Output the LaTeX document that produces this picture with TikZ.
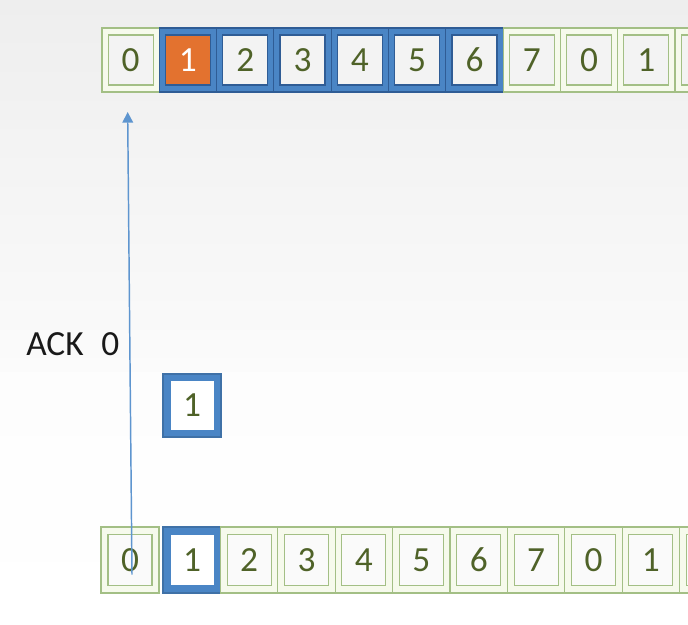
\documentclass[tikz,border=0pt]{standalone}
\usepackage{fontspec}
\setmainfont{Carlito}
\usetikzlibrary{arrows.meta}
\definecolor{gline}{HTML}{A3BF85}
\definecolor{gouter}{HTML}{F6FAEC}
\definecolor{ginfill}{HTML}{F3F3F3}
\definecolor{numgreen}{HTML}{4F6228}
\definecolor{bfill}{HTML}{4A85C5}
\definecolor{bdark}{HTML}{2F5C95}
\definecolor{ordfill}{HTML}{E3722F}
\definecolor{arrowblue}{HTML}{5E95CF}
\newcommand\cellfont{\fontsize{26.5}{31}\selectfont}
\tikzset{
  cellbase/.style={inner sep=0pt, outer sep=0pt},
  topcell/.style={cellbase, draw=gline, fill=gouter, line width=0.8pt, minimum width=42.97pt, minimum height=48pt},
  topinner/.style={cellbase, draw=gline, fill=ginfill, line width=0.8pt, minimum width=33.75pt, minimum height=37.5pt, text=numgreen, font=\cellfont},
  topbcell/.style={topcell, draw=bdark, fill=bfill},
  topbinner/.style={topinner, draw=bdark, line width=1.1pt},
  toporange/.style={topbinner, fill=ordfill, text=white},
  botcell/.style={cellbase, draw=gline, fill=gouter, line width=0.8pt, minimum width=43.05pt, minimum height=49.5pt},
  botinner/.style={cellbase, draw=gline, fill=white!60!ginfill, line width=0.8pt, minimum width=33pt, minimum height=38.25pt, text=numgreen, font=\cellfont},
  bluecell/.style={cellbase, draw=bfill!85!black, fill=bfill, line width=0.8pt, minimum width=43.5pt, minimum height=48pt},
  blueinner/.style={cellbase, fill=white, minimum width=32.25pt, minimum height=37pt, text=numgreen, font=\cellfont},
  acklabel/.style={anchor=base west, inner sep=0pt, font=\cellfont, text=black!90},
  ackarrow/.style={draw=arrowblue, line width=1.1pt, -{Triangle[width=8pt,length=8pt]}}
}
\begin{document}
\begin{tikzpicture}[x=0.75pt,y=-0.75pt]
\useasboundingbox (0,0) rectangle (688,624);
\clip (0,0) rectangle (688,624);
\shade[top color={rgb,255:red,238;green,238;blue,238}, bottom color={rgb,255:red,251;green,251;blue,251}] (0,0) rectangle (688,372);
\shade[top color={rgb,255:red,253;green,253;blue,253}, bottom color=white] (0,372) rectangle (688,624);
% top row
\foreach \d [count=\k from 0] in {0,1,2,3,4,5,6,7,0,1,{}} {
  \ifnum\k>0 \ifnum\k<7
    \node[topbcell] (t\k) at ({102+57.3*(\k+0.5)},60) {};
    \ifnum\k=1
      \node[toporange] (ti\k) at (t\k) {\d};
    \else
      \node[topbinner] (ti\k) at (t\k) {\d};
    \fi
  \else
    \node[topcell] (t\k) at ({102+57.3*(\k+0.5)},60) {};
    \node[topinner] (ti\k) at (t\k) {\d};
  \fi
  \else
    \node[topcell] (t\k) at ({102+57.3*(\k+0.5)},60) {};
    \node[topinner] (ti\k) at (t\k) {\d};
  \fi
}
% bottom row
\node[botcell, minimum width=43.5pt] (b0) at (130,560) {};
\node[botinner] (bi0) at (b0) {0};
\node[bluecell, minimum height=49.5pt] (b1) at (192,560) {};
\node[blueinner] (bi1) at (b1) {1};
\foreach \d [count=\k from 2] in {2,3,4,5,6,7,0,1,{}} {
  \node[botcell] (b\k) at ({191.7+57.4*(\k-1)},560) {};
  \node[botinner] (bi\k) at (b\k) {\d};
}
% packet in transit
\node[bluecell, minimum height=47.25pt] (f) at (192,405.5) {};
\node[blueinner] (fi) at (f) {1};
% ACK
\node[acklabel] (ack) at (26,355) {ACK\hspace{0.5em}0};
\coordinate (as) at ([xshift=1.5pt,yshift=-11pt]b0.center);
\coordinate (ae) at ([xshift=-2.25pt,yshift=-15pt]t0.south);
\draw[ackarrow] (as) -- (ae);
\end{tikzpicture}
\end{document}
